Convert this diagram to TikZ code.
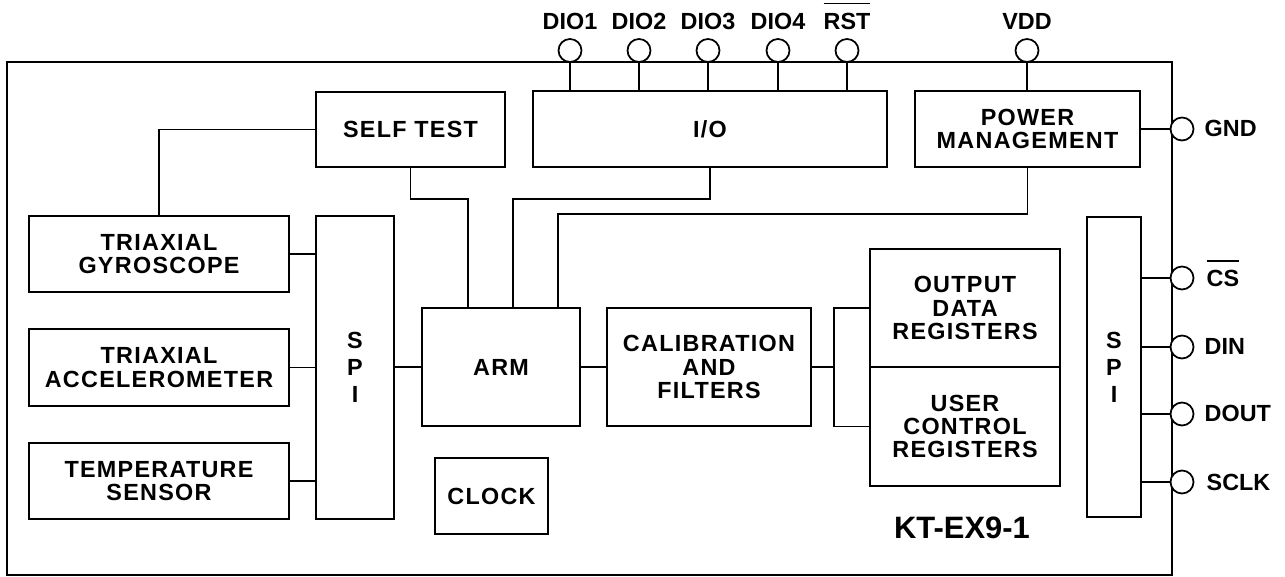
\documentclass[tikz,border=0pt]{standalone}
\usepackage{fontspec}
\setmainfont{Liberation Sans}
\newfontfamily\blkfont[LetterSpace=5.5]{Liberation Sans}
\usepackage{tikz}
\usetikzlibrary{calc,positioning}
\newcommand{\barred}[1]{\vbox{\hrule height 1pt\kern 5pt\hbox{#1}}}

\begin{document}
\begin{tikzpicture}[x=0.02cm, y=-0.02cm,
  blk/.style={draw, rectangle, line width=1pt, inner sep=0pt, align=center,
    font=\blkfont\fontsize{13.3}{13.3}\selectfont\bfseries},
  spibox/.style={blk, font=\blkfont\fontsize{13.3}{15.3}\selectfont\bfseries},
  pin/.style={draw, circle, line width=1pt, minimum size=0.46cm, inner sep=0pt, fill=white},
  pinlbl/.style={font=\fontsize{13.3}{14}\selectfont\bfseries, inner sep=0pt},
  wire/.style={line width=1pt}]
  \useasboundingbox (0,0) rectangle (1285,577);

  % chip outline
  \node[draw, line width=1.1pt, minimum width=23.3cm, minimum height=10.26cm, inner sep=0pt] (chip) at (589.5,318.5) {};

  % sensors
  \node[blk, minimum width=5.2cm, minimum height=1.52cm] (gyro) at (159,254) {TRIAXIAL\\GYROSCOPE};
  \node[blk, minimum width=5.2cm, minimum height=1.54cm] (accel) at (159,367.5) {TRIAXIAL\\ACCELEROMETER};
  \node[blk, minimum width=5.2cm, minimum height=1.52cm] (temp) at (159,481) {TEMPERATURE\\SENSOR};
  \node[spibox, minimum width=1.56cm, minimum height=6.06cm] (spil) at (355,367.5) {S\\P\\I};

  % core
  \node[blk, minimum width=3.78cm, minimum height=1.5cm] (selftest) at (410.5,129.5) {SELF TEST};
  \node[blk, minimum width=7.08cm, minimum height=1.52cm] (io) at (710,129) {I/O};
  \node[blk, minimum width=4.5cm, minimum height=1.52cm] (pm) at (1027.5,129) {POWER\\MANAGEMENT};
  \node[blk, minimum width=3.16cm, minimum height=2.36cm] (arm) at (501,367) {ARM};
  \node[blk, minimum width=4.08cm, minimum height=2.36cm] (cal) at (709,367) {CALIBRATION\\AND\\FILTERS};
  \node[blk, minimum width=2.26cm, minimum height=1.52cm] (clock) at (491.5,496) {CLOCK};
  \node[blk, minimum width=3.8cm, minimum height=2.36cm] (outreg) at (965,308) {OUTPUT\\DATA\\REGISTERS};
  \node[blk, minimum width=3.8cm, minimum height=2.38cm] (usrreg) at (965,426.5) {USER\\CONTROL\\REGISTERS};
  \node[spibox, minimum width=1.08cm, minimum height=6cm] (spir) at (1114,367) {S\\P\\I};

  \node[font=\fontsize{17.6}{18}\selectfont\bfseries, inner sep=0pt] (partno) at (962,528) {KT-EX9-1};

  % pins, top
  \node[pin] (p1) at (570,50.5) {};
  \node[pin] (p2) at (639,50.5) {};
  \node[pin] (p3) at (708,50.5) {};
  \node[pin] (p4) at (778,50.5) {};
  \node[pin] (rst) at (847,50.5) {};
  \node[pin] (vdd) at (1027,50.5) {};
  \node[pinlbl, above=0.16cm of p1] (lp1) {DIO1};
  \node[pinlbl, above=0.16cm of p2] (lp2) {DIO2};
  \node[pinlbl, above=0.16cm of p3] (lp3) {DIO3};
  \node[pinlbl, above=0.16cm of p4] (lp4) {DIO4};
  \node[pinlbl, above=0.16cm of rst] (lrst) {\barred{RST}};
  \node[pinlbl, above=0.16cm of vdd] (lvdd) {VDD};

  % pins, right
  \node[pin] (gnd) at (1182,129) {};
  \node[pin] (cs) at (1182,278) {};
  \node[pin] (din) at (1182,347) {};
  \node[pin] (dout) at (1182,414) {};
  \node[pin] (sclk) at (1182,482) {};
  \node[pinlbl, anchor=base west] (lgnd) at ([shift={(10,8)}]gnd.east) {GND};
  \node[pinlbl, anchor=base west] (lcs) at ([shift={(12,9)}]cs.east) {\barred{CS}};
  \node[pinlbl, anchor=base west] (ldin) at ([shift={(10,8)}]din.east) {DIN};
  \node[pinlbl, anchor=base west] (ldout) at ([shift={(10,8)}]dout.east) {DOUT};
  \node[pinlbl, anchor=base west] (lsclk) at ([shift={(12,8)}]sclk.east) {SCLK};

  % wiring
  \foreach \p in {p1,p2,p3,p4,rst}
    \draw[wire] (\p.south) -- (\p.south|-io.north);
  \draw[wire] (vdd.south) -- (vdd.south|-pm.north);
  \draw[wire] (pm.east) -- (gnd.west);
  \foreach \p in {cs,din,dout,sclk}
    \draw[wire] (\p.west-|spir.east) -- (\p.west);

  \draw[wire] (selftest.west) -| (gyro.north);
  \foreach \b in {gyro,accel,temp}
    \draw[wire] (\b.east) -- (\b.east-|spil.west);
  \draw[wire] (spil.east|-arm.west) -- (arm.west);

  \coordinate (a1) at (468,308);
  \coordinate (a2) at (513,308);
  \coordinate (a3) at (558,308);
  \draw[wire] (selftest.south) -- ++(0,31) -| (a1);
  \draw[wire] (io.south) -- ++(0,31) -| (a2);
  \draw[wire] (pm.south) -- ++(0,46) -| (a3);

  \draw[wire] (arm.east) -- (cal.west);
  \coordinate (bus) at (834,367);
  \draw[wire] (cal.east) -- (bus);
  \draw[wire] (outreg.west) -| (bus) |- (usrreg.west);
\end{tikzpicture}
\end{document}
